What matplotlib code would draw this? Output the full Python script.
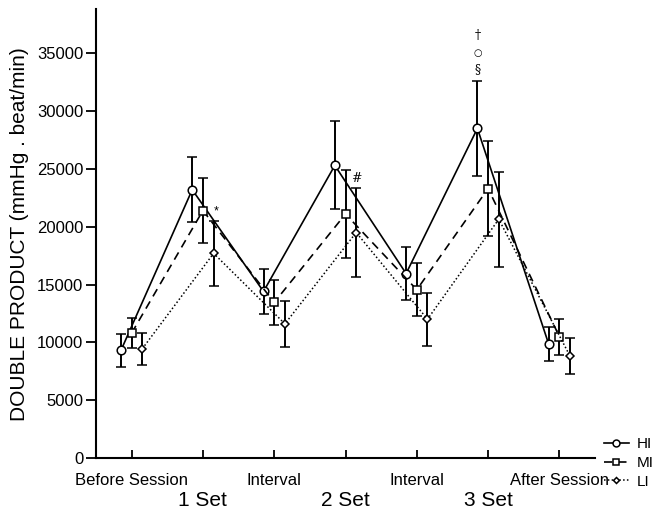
import numpy as np
import matplotlib
matplotlib.use('agg')
from matplotlib import pyplot as plt

plt.rcParams['font.family'] = ['Liberation Sans', 'DejaVu Sans']

# time points (0..6)
top_labels = ['Before Session', '', 'Interval', '', 'Interval', '', 'After Session']
set_labels = ['1 Set', '2 Set', '3 Set']

hi_mean = [9300, 23200, 14400, 25300, 15950, 28500, 9850]
hi_err = [1400, 2800, 1950, 3800, 2300, 4100, 1500]
mi_mean = [10800, 21400, 13450, 21100, 14550, 23300, 10500]
mi_err = [1330, 2800, 1950, 3800, 2300, 4100, 1550]
li_mean = [9450, 17700, 11600, 19500, 12000, 20650, 8800]
li_err = [1400, 2800, 2000, 3850, 2300, 4100, 1550]

x = np.arange(7)
off = 0.15

fig = plt.figure(figsize=(6.61, 5.09), dpi=100)
ax = fig.add_axes([0.1452, 0.1002, 0.755, 0.8815])

common = dict(color='k', ecolor='k', elinewidth=1.4, capsize=3.5, capthick=1.4,
              markerfacecolor='white', markeredgecolor='k', markeredgewidth=1.1)

ax.errorbar(x - off, hi_mean, yerr=hi_err, linestyle='-', linewidth=1.2,
            marker='o', markersize=6.2, label='HI', **common)
ax.errorbar(x, mi_mean, yerr=mi_err, linestyle=(0, (5, 3.5)), linewidth=1.2,
            marker='s', markersize=5.5, label='MI', **common)
ax.errorbar(x + off, li_mean, yerr=li_err, linestyle=(0, (1, 1.5)), linewidth=1.1,
            marker='D', markersize=3.8, label='LI', **common)

# significance marks
ax.text(1.19, 21300, '*', ha='center', va='center', fontsize=9)
ax.text(3.15, 24200, '#', ha='center', va='center', fontsize=9, family='DejaVu Serif')
ax.text(4.85, 33600, '§', ha='center', va='center', fontsize=9, family='DejaVu Serif')
ax.text(4.85, 35000, '○', ha='center', va='center', fontsize=7, family='DejaVu Sans')
ax.text(4.85, 36550, '†', ha='center', va='center', fontsize=9, family='DejaVu Serif')

ax.set_xlim(-0.5, 6.5)
ax.set_ylim(0, 38800)
ax.set_yticks(np.arange(0, 35001, 5000))
ax.tick_params(axis='y', direction='out', length=7, width=1.3, labelsize=12, pad=2)
ax.set_xticks(x)
ax.set_xticklabels(top_labels)
ax.tick_params(axis='x', direction='in', length=6, width=1.3, labelsize=12, pad=11)

for i, lab in zip([1, 3, 5], set_labels):
    ax.text(i, -0.095, lab, transform=ax.get_xaxis_transform(),
            ha='center', va='center', fontsize=15)

for s in ['top', 'right']:
    ax.spines[s].set_visible(False)
for s in ['left', 'bottom']:
    ax.spines[s].set_linewidth(1.5)

ax.set_ylabel('DOUBLE PRODUCT (mmHg . beat/min)', fontsize=15, labelpad=6)

handles, labels = ax.get_legend_handles_labels()
handles = [h[0] for h in handles]
fig.legend(handles, labels, loc='lower right', bbox_to_anchor=(1.0, 0.025),
           frameon=False, fontsize=11, handlelength=1.6, handletextpad=0.5,
           labelspacing=0.3, borderaxespad=0.1, markerscale=0.8)

fig.savefig('out.png', dpi=100)
